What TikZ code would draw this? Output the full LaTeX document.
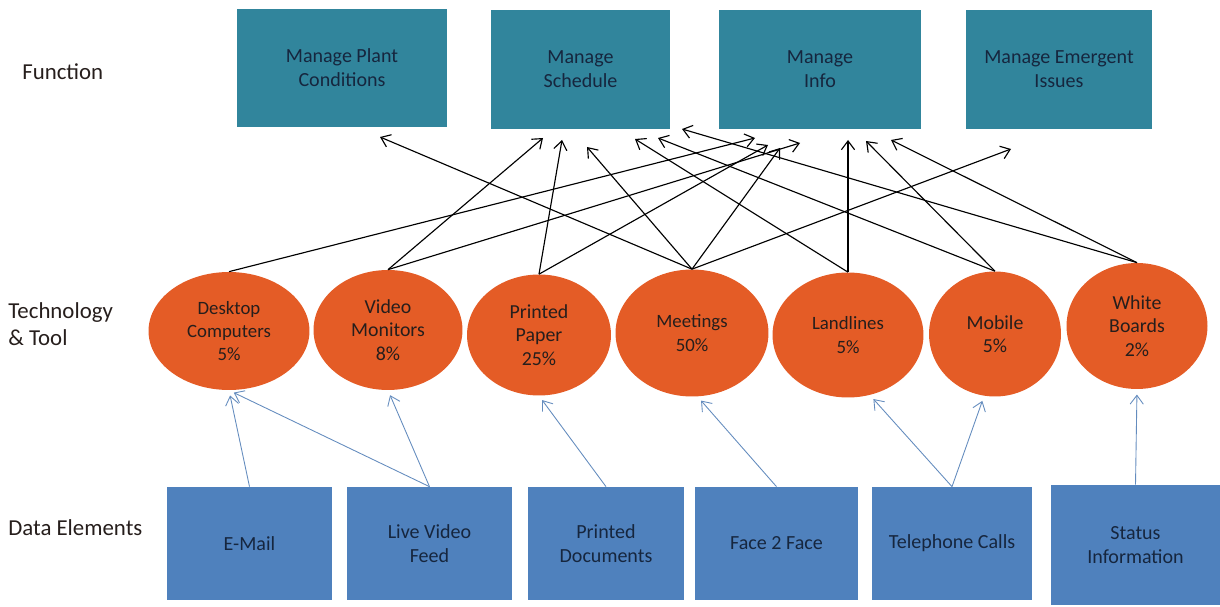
\documentclass[tikz,border=0pt]{standalone}
\usepackage{fontspec}
\setmainfont{Carlito}
\usetikzlibrary{arrows.meta,shapes.geometric}
\definecolor{fn_teal}{RGB}{49,133,156}
\definecolor{tool_orange}{RGB}{228,92,38}
\definecolor{data_blue}{RGB}{79,129,189}
\definecolor{link_blue}{RGB}{100,140,190}
\definecolor{txt_navy}{RGB}{22,38,62}
\definecolor{txt_dark}{RGB}{38,30,28}
\tikzstyle{lbl}=[anchor=west,align=left,inner sep=0pt,text=txt_dark,
  font=\fontsize{13}{15.5}\selectfont]
\tikzstyle{fn}=[rectangle,fill=fn_teal,draw=none,text=txt_navy,align=center,
  inner sep=0pt,minimum height=2.38cm,font=\fontsize{11.4}{13.6}\selectfont]
\tikzstyle{tool}=[ellipse,fill=tool_orange,draw=none,text=txt_dark,align=center,
  inner sep=0pt,font=\fontsize{11.3}{13.4}\selectfont]
\tikzstyle{data}=[rectangle,fill=data_blue,draw=none,text=txt_navy,align=center,
  inner sep=0pt,minimum height=2.26cm,font=\fontsize{11.4}{13.6}\selectfont]
\tikzstyle{up}=[draw=black,line width=0.65pt,
  -{Straight Barb[length=5pt,width=7.5pt]}]
\tikzstyle{feed}=[draw=link_blue,line width=0.5pt,shorten >=3pt,
  -{Straight Barb[length=5pt,width=7.5pt]}]
\tikzstyle{none}=[]

\begin{document}
\begin{tikzpicture}[x=0.02cm,y=-0.02cm]
            \useasboundingbox (0,0) rectangle (1220,607);
            \node [style=lbl] (0) at (22,72) {Function};
            \node [style=lbl] (1) at (8,324) {Technology\\\& Tool};
            \node [style=lbl] (2) at (8,528) {Data Elements};
            \node [style=fn, minimum width=4.2cm] (3) at (342,68) {Manage Plant\\Conditions};
            \node [style=fn, minimum width=3.58cm] (4) at (580.5,69.5) {Manage\\Schedule};
            \node [style=fn, minimum width=4.04cm] (5) at (820,69.5) {Manage\\Info};
            \node [style=fn, minimum width=3.72cm] (6) at (1059,69.5) {Manage Emergent\\Issues};
            \node [style=tool, minimum width=3.22cm, minimum height=2.36cm, font=\fontsize{10.7}{13.2}\selectfont] (7) at (229,331) {Desktop\\Computers\\5\%};
            \node [style=tool, minimum width=2.98cm, minimum height=2.4cm] (8) at (388,330) {Video\\Monitors\\8\%};
            \node [style=tool, minimum width=2.88cm, minimum height=2.42cm] (9) at (539,335) {Printed\\Paper\\25\%};
            \node [style=tool, minimum width=3.06cm, minimum height=2.54cm, font=\fontsize{10.7}{13.6}\selectfont] (10) at (692,333) {Meetings\\50\%};
            \node [style=tool, minimum width=3.02cm, minimum height=2.5cm, font=\fontsize{10.7}{13.6}\selectfont] (11) at (848,335) {Landlines\\5\%};
            \node [style=tool, minimum width=2.64cm, minimum height=2.5cm] (12) at (995,334) {Mobile\\5\%};
            \node [style=tool, minimum width=2.82cm, minimum height=2.52cm] (13) at (1137,326) {White\\Boards\\2\%};
            \node [style=data, minimum width=3.3cm] (14) at (249.5,543.5) {E-Mail};
            \node [style=data, minimum width=3.3cm] (15) at (429.5,543.5) {Live Video\\Feed};
            \node [style=data, minimum width=3.12cm] (16) at (606,543.5) {Printed\\Documents};
            \node [style=data, minimum width=3.26cm] (17) at (776.5,543.5) {Face 2 Face};
            \node [style=data, minimum width=3.22cm] (18) at (952,543.5) {Telephone Calls};
            \node [style=data, minimum width=3.38cm, minimum height=2.4cm] (19) at (1135.5,545) {Status\\Information};
            \node [style=none] (20) at (380,137) {};
            \node [style=none] (21) at (543,138) {};
            \node [style=none] (22) at (562,140) {};
            \node [style=none] (23) at (587,147) {};
            \node [style=none] (24) at (635,139) {};
            \node [style=none] (25) at (658,138) {};
            \node [style=none] (26) at (682,129) {};
            \node [style=none] (27) at (755,138) {};
            \node [style=none] (28) at (768,145) {};
            \node [style=none] (29) at (780,148) {};
            \node [style=none] (30) at (800,143) {};
            \node [style=none] (31) at (848,140) {};
            \node [style=none] (32) at (866,141) {};
            \node [style=none] (33) at (891,140) {};
            \node [style=none] (34) at (1011,149) {};
            \draw [style=up] (7.north) to (27.center);
            \draw [style=up] (8.north) to (21.center);
            \draw [style=up] (8.north) to (30.center);
            \draw [style=up] (9.north) to (22.center);
            \draw [style=up] (9.north) to (28.center);
            \draw [style=up] (10.north) to (20.center);
            \draw [style=up] (10.north) to (23.center);
            \draw [style=up] (10.north) to (29.center);
            \draw [style=up] (10.north) to (34.center);
            \draw [style=up] (11.north) to (24.center);
            \draw [style=up] (11.north) to (31.center);
            \draw [style=up] (12.north) to (25.center);
            \draw [style=up] (12.north) to (32.center);
            \draw [style=up] (13.north) to (26.center);
            \draw [style=up] (13.north) to (33.center);
            \draw [style=feed] (14.north) to (7.south);
            \draw [style=feed] (15.north) to (7.south);
            \draw [style=feed] (15.north) to (8.south);
            \draw [style=feed] (16.north) to (9.south);
            \draw [style=feed] (17.north) to (10.-85);
            \draw [style=feed] (18.north) to (11.-70);
            \draw [style=feed] (18.north) to (12.-100);
            \draw [style=feed] (19.north) to (13.south);
    \end{tikzpicture}
\end{document}
